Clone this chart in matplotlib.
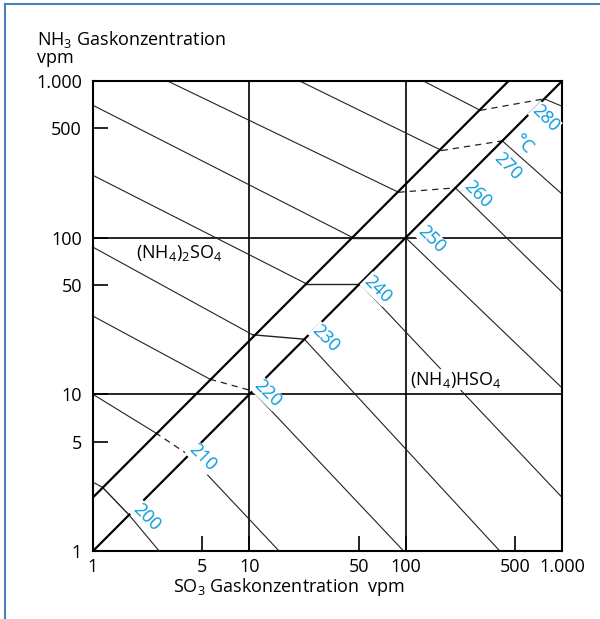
import matplotlib
matplotlib.use("Agg")
import matplotlib.pyplot as plt
from matplotlib.lines import Line2D
from matplotlib.ticker import NullLocator

plt.rcParams['font.family'] = ['Open Sans', 'DejaVu Sans']
plt.rcParams['mathtext.default'] = 'regular'

# isotherms (°C), SO3 / NH3 in vpm
temps = [200, 210, 220, 230, 240, 250, 260, 270, 280]
# start on the left / top border
start_so3 = [1, 1, 1, 1, 1, 1, 3, 21, 130]
start_nh3 = [2.75, 10, 31.6, 87, 250, 700, 1000, 1000, 1000]
# where the isotherm meets the upper boundary line
a_so3 = [1.15, 2.5, 5.6, 10.5, 23, 46, 90, 170, 300]
a_nh3 = [2.55, 5.7, 12.5, 24, 51, 100, 195, 360, 650]
# where it meets the lower boundary line (NH3 = SO3)
b_so3 = [1.7, 4.1, 10.5, 22.5, 51, 100, 208, 415, 770]
b_nh3 = [1.7, 4.1, 10.5, 22.5, 51, 100, 208, 415, 770]
# end on the bottom / right border
end_so3 = [2.65, 15.5, 97, 400, 1000, 1000, 1000, 1000, 1000]
end_nh3 = [1, 1, 1, 1, 2.2, 11, 45, 190, 690]
dashed = [False, True, True, False, False, False, True, True, True]

# label positions of the temperatures
lab_so3 = [2.2, 5.0, 13.1, 30.6, 66, 146, 290, 447, 780]
lab_nh3 = [1.65, 3.95, 10.1, 22.7, 47, 97, 188, 285, 575]

# the two phase boundaries
upper_so3 = [1, 455]
upper_nh3 = [2.2, 1000]
lower_so3 = [1, 1000]
lower_nh3 = [1, 1000]

ticks = [1, 5, 10, 50, 100, 500, 1000]
tick_labels = ['1', '5', '10', '50', '100', '500', '1.000']

blue = '#0a9ad9'
fs = 13

fig = plt.figure(figsize=(6, 6.19), dpi=100)
ax = fig.add_axes([0.155, 0.1098, 0.7817, 0.7593])
ax.set_xscale('log')
ax.set_yscale('log')
ax.set_xlim(1, 1000)
ax.set_ylim(1, 1000)

for v in (10, 100):
    ax.axvline(v, color='k', lw=1.2, zorder=1)
    ax.axhline(v, color='k', lw=1.2, zorder=1)

ax.plot(upper_so3, upper_nh3, color='k', lw=1.6, zorder=3)
ax.plot(lower_so3, lower_nh3, color='k', lw=1.6, zorder=3)

for i in range(len(temps)):
    ax.plot([start_so3[i], a_so3[i]], [start_nh3[i], a_nh3[i]], color='#222222', lw=0.8, zorder=2)
    ax.plot([a_so3[i], b_so3[i]], [a_nh3[i], b_nh3[i]], color='#222222',
            lw=1.0 if not dashed[i] else 0.9,
            ls=(0, (5, 4)) if dashed[i] else '-', zorder=2)
    ax.plot([b_so3[i], end_so3[i]], [b_nh3[i], end_nh3[i]], color='#222222', lw=0.8, zorder=2)
    ax.text(lab_so3[i], lab_nh3[i], str(temps[i]), color=blue, fontsize=fs,
            rotation=-45, ha='center', va='center', zorder=4,
            bbox=dict(facecolor='white', edgecolor='none', pad=0.3))

ax.text(566, 395, '°C', color=blue, fontsize=fs, rotation=-45,
        ha='center', va='center', zorder=4)

ax.text(3.56, 80, '(NH$_4$)$_2$SO$_4$', fontsize=fs, ha='center', va='center', zorder=4)
ax.text(210, 12.4, '(NH$_4$)HSO$_4$', fontsize=fs, ha='center', va='center', zorder=4,
        bbox=dict(facecolor='white', edgecolor='none', pad=0.2))

ax.set_xticks(ticks, tick_labels)
ax.set_yticks(ticks, tick_labels)
ax.xaxis.set_minor_locator(NullLocator())
ax.yaxis.set_minor_locator(NullLocator())
ax.tick_params(direction='in', length=11, width=1.2, labelsize=fs)
ax.tick_params(axis='y', pad=8)
ax.tick_params(axis='x', pad=5)
for s in ax.spines.values():
    s.set_linewidth(1.5)

fig.text(37 / 600, 1 - 45 / 619, 'NH$_3$ Gaskonzentration', fontsize=fs, va='baseline')
fig.text(37 / 600, 1 - 63 / 619, 'vpm', fontsize=fs, va='baseline')
fig.text(173 / 600, 1 - 592 / 619, 'SO$_3$ Gaskonzentration  vpm', fontsize=fs, va='baseline')

# blue frame on top and left
frame = '#4a7fc1'
fig.add_artist(Line2D([5 / 600, 5 / 600], [0, 1 - 4 / 619], color=frame, lw=1.5,
                      transform=fig.transFigure))
fig.add_artist(Line2D([5 / 600, 1], [1 - 4 / 619, 1 - 4 / 619], color=frame, lw=1.5,
                      transform=fig.transFigure))

fig.savefig('out.png', dpi=100)
